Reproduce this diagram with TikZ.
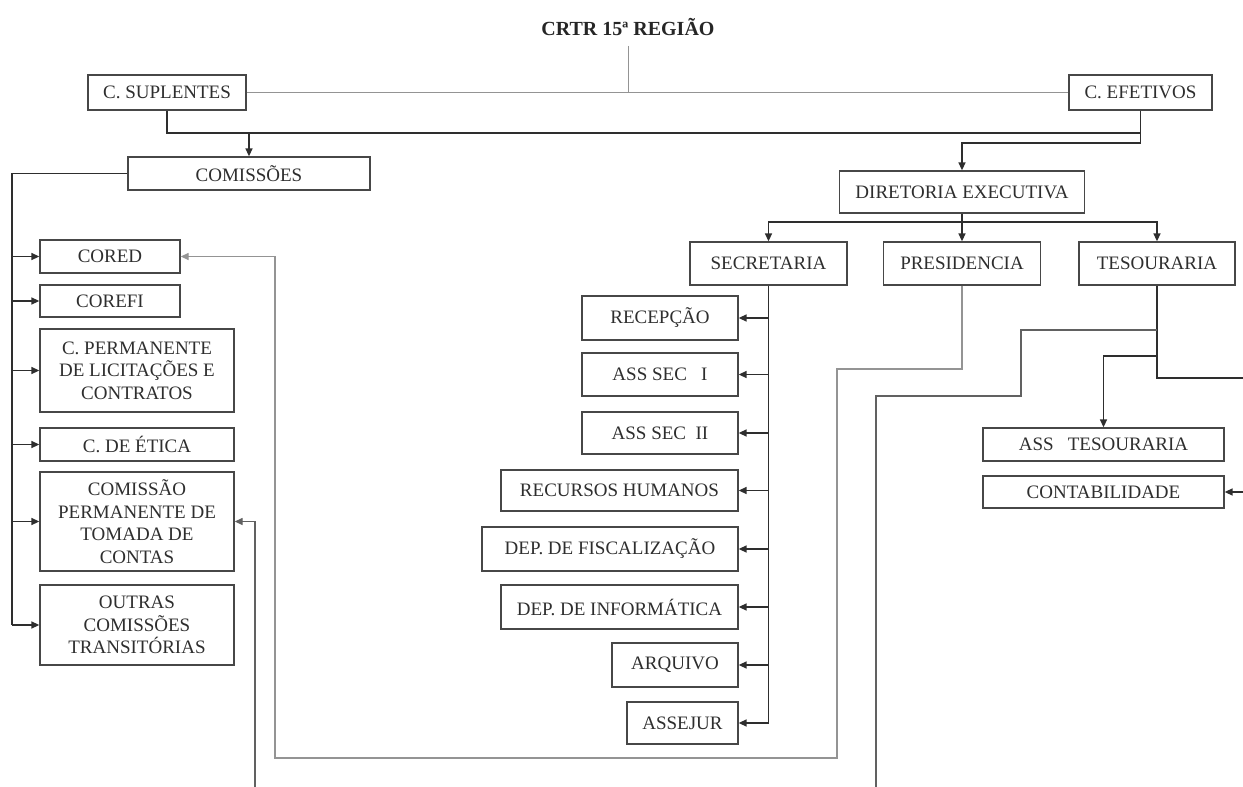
\documentclass[tikz,border=0pt]{standalone}
\usepackage{fontspec}
\setmainfont{Liberation Serif}
\usetikzlibrary{arrows.meta}
\newcommand\boxfs{\fontsize{19}{22.5}\selectfont}
\newcommand\titlefs{\fontsize{20}{24}\selectfont}
\begin{document}
\begin{tikzpicture}[x=1pt,y=-1pt,
    unit/.style={draw=black!72,line width=1.3pt,inner sep=0pt,align=center,font=\boxfs,text=black!82},
    link/.style={draw=black!82,line width=1.5pt},
    tip/.style={-{Triangle[length=8pt,width=7pt]}},
    arr/.style={link,tip},
    pale/.style={draw=black!42,line width=1.3pt},
    midgray/.style={draw=black!62,line width=1.3pt}]
  \useasboundingbox (0,0) rectangle (1243,787);
  \draw
    (628,27) node[font=\bfseries\titlefs,text=black!85,inner sep=0pt] (crtr){CRTR 15ª REGIÃO}
    (167,92.5) node[unit,minimum width=158,minimum height=35] (sup){C. SUPLENTES}
    (1140.5,92.5) node[unit,minimum width=143,minimum height=35] (efe){C. EFETIVOS}
    (249,173.5) node[unit,minimum width=242,minimum height=33] (com){COMISSÕES}
    (962,192) node[unit,minimum width=245,minimum height=42] (dir){DIRETORIA EXECUTIVA}
    (768.5,263.5) node[unit,minimum width=157,minimum height=43] (sec){SECRETARIA}
    (962,263.5) node[unit,minimum width=157,minimum height=43] (pre){PRESIDENCIA}
    (1157,263.5) node[unit,minimum width=156,minimum height=43] (tes){TESOURARIA}
    (110,256.5) node[unit,minimum width=140,minimum height=33] (cored){CORED}
    (110,301) node[unit,minimum width=140,minimum height=32] (corefi){COREFI}
    (137,370.5) node[unit,minimum width=194,minimum height=83] (cpl){C. PERMANENTE\\DE LICITAÇÕES E\\CONTRATOS}
    (137,444.5) node[unit,minimum width=194,minimum height=33] (cet){C. DE ÉTICA}
    (137,521.5) node[unit,minimum width=194,minimum height=99] (cptc){COMISSÃO\\PERMANENTE DE\\TOMADA DE\\CONTAS}
    (137,625) node[unit,minimum width=194,minimum height=80] (outras){OUTRAS\\COMISSÕES\\TRANSITÓRIAS}
    (660,318) node[unit,minimum width=156,minimum height=44] (rec){RECEPÇÃO}
    (660,374.5) node[unit,minimum width=156,minimum height=43] (as1){ASS SEC \ \ I}
    (660,433) node[unit,minimum width=156,minimum height=42] (as2){ASS SEC \ II}
    (619.5,490.5) node[unit,minimum width=237,minimum height=41] (rh){RECURSOS HUMANOS}
    (610,549) node[unit,minimum width=256,minimum height=44] (fis){DEP. DE FISCALIZAÇÃO}
    (619.5,607) node[unit,minimum width=237,minimum height=44] (inf){DEP. DE INFORMÁTICA}
    (675,665) node[unit,minimum width=126,minimum height=44] (arq){ARQUIVO}
    (682.5,723) node[unit,minimum width=111,minimum height=42] (asj){ASSEJUR}
    (1103.5,444.5) node[unit,minimum width=241,minimum height=33] (ats){ASS \ \ TESOURARIA}
    (1103.5,492) node[unit,minimum width=241,minimum height=32] (cont){CONTABILIDADE};
  \coordinate (top) at (628,92.5);
  \coordinate (bus) at (1140.5,133);
  \coordinate (dbus) at (1140.5,143);
  \coordinate (sbus) at (962,222);
  \coordinate (ltrunk) at (12,173.5);
  \begin{scope}[pale,line width=1pt]
    \draw (sup) to (efe);
    \draw ([yshift=-10pt]crtr.south) to (top);
  \end{scope}
  \begin{scope}[link]
    \draw (sup.south) |- (bus) -- (efe.south);
    \draw[arr] (efe.south) -- (dbus) -| (dir.north);
    \draw[arr] (com.north |- bus) to (com.north);
    \draw (dir.south) to (sbus);
    \draw[arr] (sbus) -| (sec.north);
    \draw[arr] (sbus) to (pre.north);
    \draw[arr] (sbus) -| (tes.north);
    \draw (com.west) -| (ltrunk |- outras.west);
    \foreach \n in {cored,corefi,cpl,cet,cptc,outras}
      \draw[arr] (ltrunk |- \n.west) to (\n.west);
    \draw (sec.south) -- (sec.south |- asj.east);
    \foreach \n in {rec,as1,as2,rh,fis,inf,arq,asj}
      \draw[arr] (sec.south |- \n.east) to (\n.east);
    \draw[arr] (tes.south) -- (1157,378) -- (1262,378) |- (cont.east);
    \draw[arr] (1157,356) -| (ats.north);
  \end{scope}
  \draw[pale,tip] (pre.south) |- (837,369) -- (837,758) -- (275,758) |- (cored.east);
  \draw[midgray,tip] (1157,330) -| (1021,396) -| (876,800) -- (255,800) |- (cptc.east);
\end{tikzpicture}
\end{document}
